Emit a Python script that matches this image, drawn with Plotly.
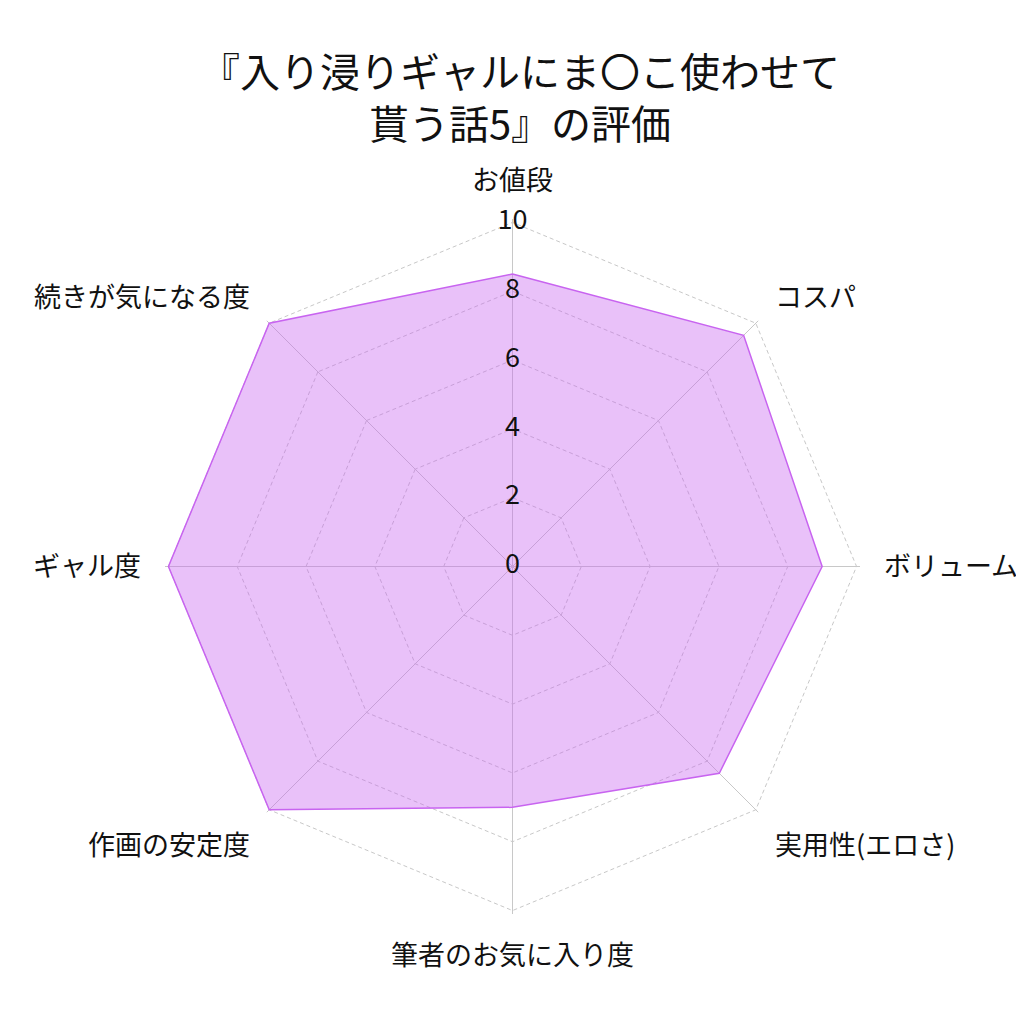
import plotly.graph_objects as go

categories = ["お値段", "コスパ", "ボリューム", "実用性(エロさ)", "筆者のお気に入り度",
              "作画の安定度", "ギャル度", "続きが気になる度"]
values = [8.5, 9.5, 9.0, 8.5, 7.0, 10.0, 10.0, 10.0]
tick_values = [0, 2, 4, 6, 8, 10]
tick_labels = ["0", "2", "4", "6", "8", "10"]
title_text = "『入り浸りギャルにま〇こ使わせて<br>貰う話5』の評価"

FONT = "Noto Sans CJK JP"
LINE = "rgb(200,100,240)"
FILL = "rgba(200,100,240,0.4)"

fig = go.Figure()
fig.add_trace(go.Scatterpolar(
    r=values + values[:1],
    theta=categories + categories[:1],
    mode="lines",
    line=dict(color=LINE, width=1.5),
    fill="toself",
    fillcolor=FILL,
    hoverinfo="skip",
    showlegend=False,
))
# radial tick labels centered on the top spoke (one trace per label);
# plotly polar drops points at exactly r=0, so nudge that one by a negligible amount
for tv, tl in zip(tick_values, tick_labels):
    fig.add_trace(go.Scatterpolar(
        r=[max(tv, 1e-6)],
        theta=[categories[0]],
        mode="text",
        text=[tl],
        textposition="middle center",
        textfont=dict(family=FONT, size=27, color="#111"),
        cliponaxis=(tv != tick_values[-1]),
        hoverinfo="skip",
        showlegend=False,
    ))

fig.update_layout(
    width=1024, height=1024,
    paper_bgcolor="white",
    font=dict(family=FONT, color="#111"),
    title=dict(text=title_text, x=0.5, xanchor="center", y=0.923, yanchor="middle",
               font=dict(family=FONT, size=40, color="#111")),
    margin=dict(l=157, r=172, t=211, b=118),
    polar=dict(
        bgcolor="white",
        gridshape="linear",
        radialaxis=dict(
            range=[0, 10.1], tickvals=tick_values, showticklabels=False,
            ticks="", showline=False, gridcolor="#c8c8c8", griddash="4px,3px",
            gridwidth=1, angle=90,
        ),
        angularaxis=dict(
            direction="clockwise", rotation=90, showline=False,
            gridcolor="#c8c8c8", gridwidth=1,
            ticks="outside", ticklen=18, tickcolor="rgba(0,0,0,0)",
            tickfont=dict(family=FONT, size=27, color="#111"),
        ),
    ),
)

fig.write_html("out.html")
